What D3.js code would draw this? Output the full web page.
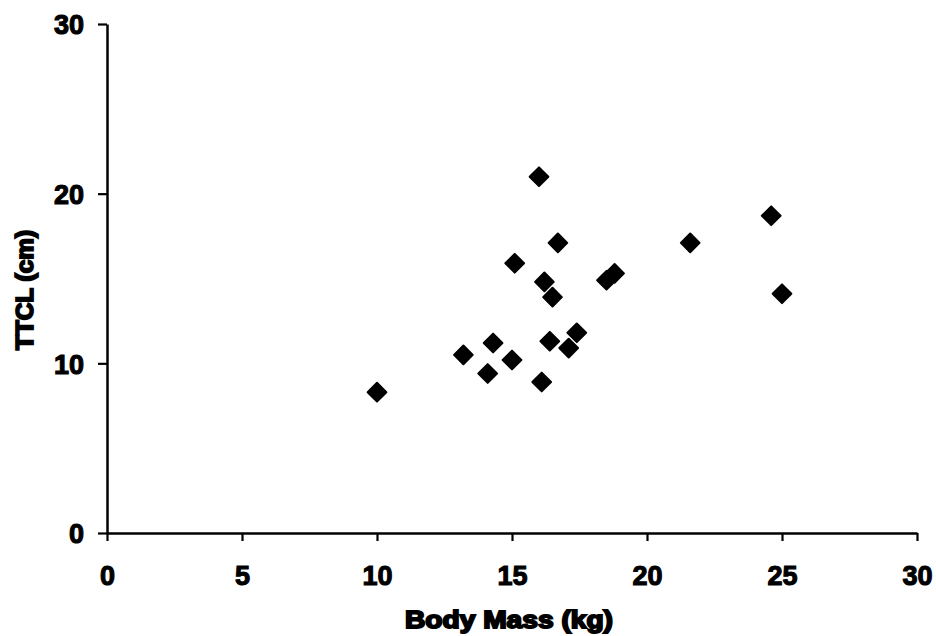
<!DOCTYPE html>
<html>
<head>
<meta charset="utf-8">
<script src="https://cdn.jsdelivr.net/npm/d3@7"></script>
<style>
  html, body { margin: 0; padding: 0; background: #fff; }
  svg text { font-family: "Liberation Sans", Arial, Helvetica, sans-serif; font-weight: bold; fill: #000; }
</style>
</head>
<body>
<svg id="chart" width="936" height="636"></svg>
<script>
// Body mass (kg) and TTCL (cm) for each specimen
const bodyMass = [10.0, 13.2, 14.1, 14.3, 15.0, 15.1, 16.0, 16.1, 16.2, 16.4, 16.5, 16.7, 17.1, 17.4, 18.5, 18.8, 21.6, 24.6, 25.0];
const ttcl     = [8.3, 10.5, 9.4, 11.2, 10.2, 15.9, 21.0, 8.9, 14.8, 11.3, 13.9, 17.1, 10.9, 11.8, 14.9, 15.3, 17.1, 18.7, 14.1];
const xTicks = [0, 5, 10, 15, 20, 25, 30];
const yTicks = [0, 10, 20, 30];
const xTitle = "Body Mass (kg)";
const yTitle = "TTCL (cm)";

const svg = d3.select("#chart");
const W = 936, H = 636;
const margin = { top: 24, right: 19, bottom: 103, left: 107 };
const innerW = W - margin.left - margin.right;
const innerH = H - margin.top - margin.bottom;

const x = d3.scaleLinear().domain([0, 30]).range([0, innerW]);
const y = d3.scaleLinear().domain([0, 30]).range([innerH, 0]);

const g = svg.append("g").attr("transform", `translate(${margin.left},${margin.top})`);

// Axes
const xAxis = g.append("g")
  .attr("transform", `translate(0,${innerH})`)
  .call(d3.axisBottom(x).tickValues(xTicks).tickSize(8).tickSizeOuter(0).tickPadding(20));
const yAxis = g.append("g")
  .call(d3.axisLeft(y).tickValues(yTicks).tickSize(9).tickSizeOuter(0).tickPadding(14));

[xAxis, yAxis].forEach(a => {
  a.attr("font-size", null);
  a.select(".domain").attr("stroke", "#000").attr("stroke-width", 2.5);
  a.selectAll(".tick line").attr("stroke", "#000").attr("stroke-width", 2.2);
  a.selectAll(".tick text")
    .style("font-size", "27px")
    .attr("stroke", "#000").attr("stroke-width", 1.1)
    .attr("fill", "#000");
});
xAxis.selectAll(".tick text").attr("dy", "0.9em");
yAxis.selectAll(".tick text").attr("dy", "0.36em");

// Points: filled diamonds
const diamond = d3.symbol().type(d3.symbolSquare).size(175);
g.append("g").selectAll("path")
  .data(bodyMass.map((m, i) => ({ m, t: ttcl[i] })))
  .join("path")
  .attr("d", diamond)
  .attr("transform", d => `translate(${x(d.m)},${y(d.t)}) rotate(45)`)
  .attr("fill", "#000")
  .attr("stroke", "#000")
  .attr("stroke-width", 2)
  .attr("stroke-linejoin", "round");

// Axis titles
svg.append("text")
  .attr("x", 509).attr("y", 628)
  .attr("text-anchor", "middle")
  .style("font-size", "23px")
  .attr("textLength", 208)
  .attr("lengthAdjust", "spacingAndGlyphs")
  .attr("stroke", "#000").attr("stroke-width", 1.8)
  .text(xTitle);

svg.append("text")
  .attr("transform", "translate(33,290) rotate(-90)")
  .attr("text-anchor", "middle")
  .style("font-size", "23px")
  .attr("textLength", 120)
  .attr("lengthAdjust", "spacingAndGlyphs")
  .attr("stroke", "#000").attr("stroke-width", 1.8)
  .text(yTitle);
</script>
</body>
</html>
